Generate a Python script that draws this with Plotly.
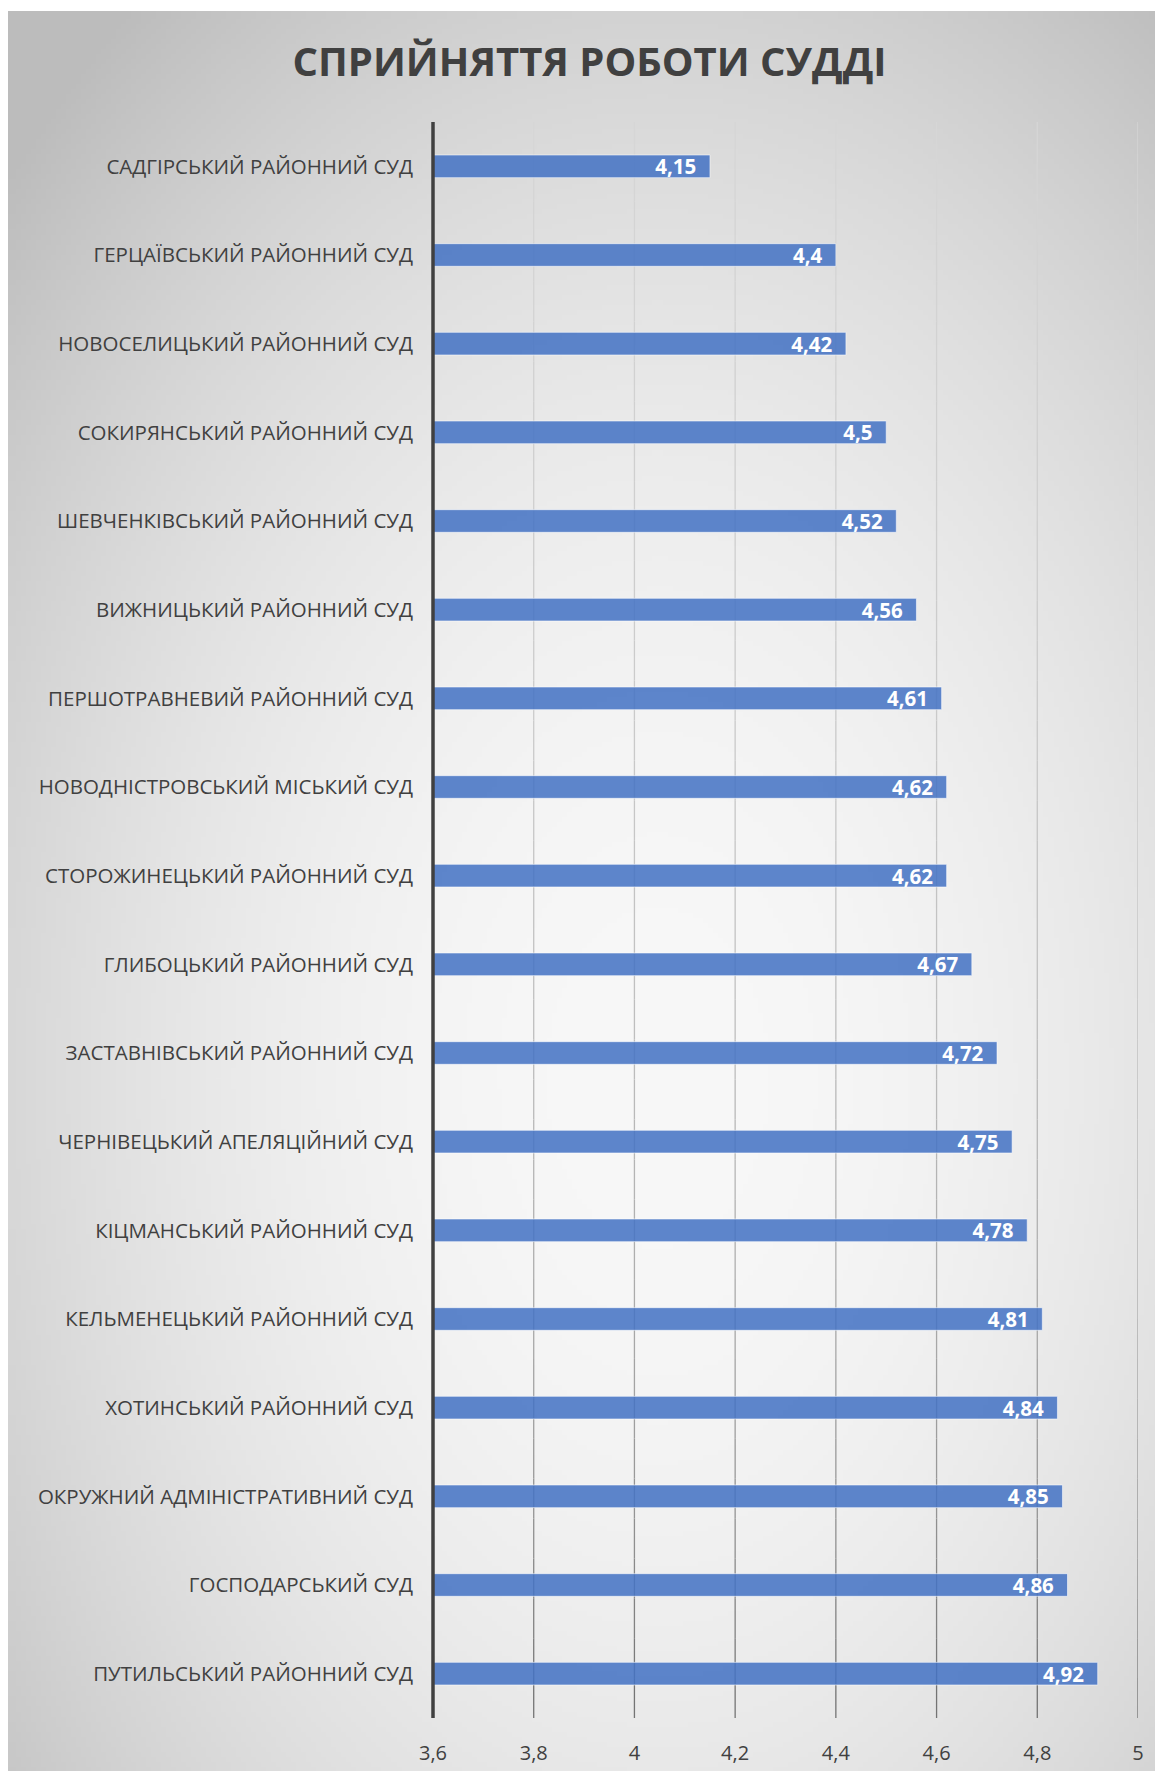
import base64
import struct
import zlib

import numpy as np
import plotly.graph_objects as go

# ---------------- data ----------------
courts = [
    "САДГІРСЬКИЙ РАЙОННИЙ СУД",
    "ГЕРЦАЇВСЬКИЙ РАЙОННИЙ СУД",
    "НОВОСЕЛИЦЬКИЙ РАЙОННИЙ СУД",
    "СОКИРЯНСЬКИЙ РАЙОННИЙ СУД",
    "ШЕВЧЕНКІВСЬКИЙ РАЙОННИЙ СУД",
    "ВИЖНИЦЬКИЙ РАЙОННИЙ СУД",
    "ПЕРШОТРАВНЕВИЙ РАЙОННИЙ СУД",
    "НОВОДНІСТРОВСЬКИЙ МІСЬКИЙ СУД",
    "СТОРОЖИНЕЦЬКИЙ РАЙОННИЙ СУД",
    "ГЛИБОЦЬКИЙ РАЙОННИЙ СУД",
    "ЗАСТАВНІВСЬКИЙ РАЙОННИЙ СУД",
    "ЧЕРНІВЕЦЬКИЙ АПЕЛЯЦІЙНИЙ СУД",
    "КІЦМАНСЬКИЙ РАЙОННИЙ СУД",
    "КЕЛЬМЕНЕЦЬКИЙ РАЙОННИЙ СУД",
    "ХОТИНСЬКИЙ РАЙОННИЙ СУД",
    "ОКРУЖНИЙ АДМІНІСТРАТИВНИЙ СУД",
    "ГОСПОДАРСЬКИЙ СУД",
    "ПУТИЛЬСЬКИЙ РАЙОННИЙ СУД",
]
scores = [4.15, 4.4, 4.42, 4.5, 4.52, 4.56, 4.61, 4.62, 4.62, 4.67,
          4.72, 4.75, 4.78, 4.81, 4.84, 4.85, 4.86, 4.92]
x_ticks = [3.6, 3.8, 4.0, 4.2, 4.4, 4.6, 4.8, 5.0]
x_tick_labels = ["3,6", "3,8", "4", "4,2", "4,4", "4,6", "4,8", "5"]
title_text = "СПРИЙНЯТТЯ РОБОТИ СУДДІ"

# ---------------- figure geometry ----------------
W, H = 1163, 1771
ML, MR, MT, MB = 425, 33, 114, 61
PW, PH = W - ML - MR, H - MT - MB


# ---------------- radial gradient background (PNG data URI) ----------------
def make_png(arr):
    h, w = arr.shape
    raw = b"".join(b"\x00" + arr[i].astype(np.uint8).tobytes() for i in range(h))

    def chunk(tag, data):
        c = struct.pack(">I", len(data)) + tag + data
        return c + struct.pack(">I", zlib.crc32(tag + data) & 0xFFFFFFFF)

    png = b"\x89PNG\r\n\x1a\n"
    png += chunk(b"IHDR", struct.pack(">IIBBBBB", w, h, 8, 0, 0, 0, 0))
    png += chunk(b"IDAT", zlib.compress(raw, 9))
    png += chunk(b"IEND", b"")
    return "data:image/png;base64," + base64.b64encode(png).decode()


bg_x0, bg_y0 = 0, 3
gw, gh = 232, 352
xs = np.linspace(bg_x0, W, gw)
ys = np.linspace(bg_y0, H, gh)
XX, YY = np.meshgrid(xs, ys)
cx, cy = 650, 1070
r2 = ((XX - cx) / (W * 0.75)) ** 2 + ((YY - cy) / (H * 0.75)) ** 2
grad = np.clip(248 - 58 * r2, 188, 250)
bg_uri = make_png(grad)

fig = go.Figure()

fig.add_trace(go.Bar(
    x=scores,
    y=courts,
    orientation="h",
    marker=dict(color="rgba(68,114,196,0.86)",
                line=dict(color="rgba(255,255,255,0.55)", width=1)),
    text=[f"{v:g}".replace(".", ",") + "\u00a0\u00a0" for v in scores],
    textposition="inside",
    insidetextanchor="end",
    constraintext="none",
    textfont=dict(family="Open Sans", size=20.5, color="white", weight="bold"),
    cliponaxis=True,
    hoverinfo="skip",
))

# gridlines with a vertical light->dark gradient
shapes = []
nseg = 40
for xv in x_ticks[1:]:
    for k in range(nseg):
        t0, t1 = k / nseg, (k + 1) / nseg
        t = (t0 + t1) / 2
        g = int(round(214 - 30 * t - 72 * t ** 4))
        shapes.append(dict(
            type="line", xref="x", yref="paper",
            x0=xv, x1=xv, y0=1 - t0, y1=1 - t1,
            line=dict(color=f"rgb({g},{g},{g})", width=1.3),
            layer="below",
        ))
# vertical axis line at the left edge of the plot area (value 3,6)
shapes.append(dict(
    type="line", xref="paper", yref="paper",
    x0=0, x1=0, y0=0, y1=1,
    line=dict(color="#404040", width=3.5),
    layer="above",
))

fig.update_layout(
    width=W, height=H,
    margin=dict(l=ML, r=MR, t=MT, b=MB),
    paper_bgcolor="white",
    plot_bgcolor="rgba(0,0,0,0)",
    showlegend=False,
    bargap=0.745,
    images=[dict(
        source=bg_uri, xref="paper", yref="paper",
        x=(bg_x0 - ML) / PW, y=(H - MB - bg_y0) / PH,
        sizex=(W - bg_x0) / PW, sizey=(H - bg_y0) / PH,
        xanchor="left", yanchor="top", sizing="stretch", layer="below",
    )],
    shapes=shapes,
    title=dict(
        text=title_text,
        x=0.5, xanchor="center", xref="container",
        y=1 - 54 / H, yanchor="middle", yref="container",
        font=dict(family="Open Sans", size=40, color="#404040", weight="bold"),
    ),
    xaxis=dict(
        range=[3.6, 5.0],
        tickvals=x_ticks,
        ticktext=x_tick_labels,
        showgrid=False,
        zeroline=False,
        showline=False,
        ticks="",
        ticklabelstandoff=21,
        tickfont=dict(family="Open Sans", size=20, color="#404040"),
    ),
    yaxis=dict(
        autorange="reversed",
        showgrid=False,
        showline=False,
        ticks="",
        ticklabelstandoff=19,
        tickfont=dict(family="Open Sans", size=20.5, color="#404040"),
    ),
)

fig.write_html("out.html")
